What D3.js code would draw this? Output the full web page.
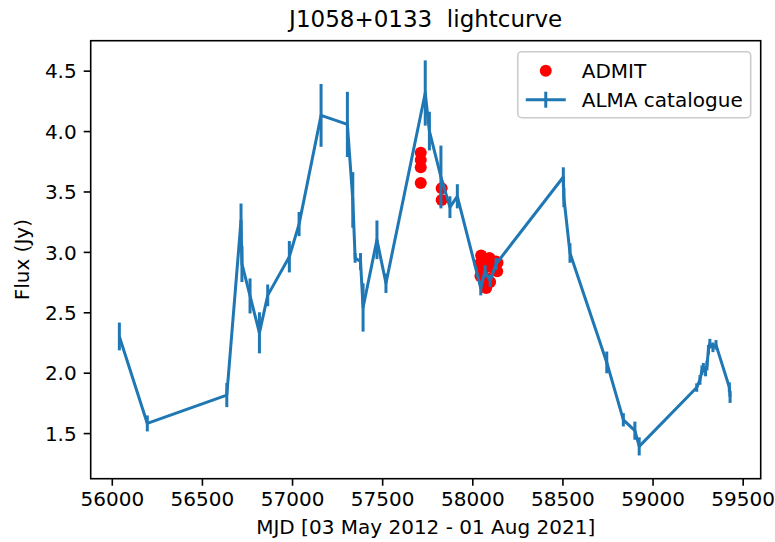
<!DOCTYPE html>
<html><head><meta charset="utf-8">
<script src="https://cdn.jsdelivr.net/npm/d3@7"></script>
<style>
body{margin:0;background:#fff}
svg{display:block}
text{font-family:"DejaVu Sans",sans-serif;fill:#000;white-space:pre}
</style>
</head><body>
<svg id="chart" width="775" height="542"></svg>
<script>
// ALMA catalogue (blue line with error bars)
const almaMjd  = [56042,56197,56638,56717,56722,56767,56819,56865,56985,57039,57161,57307,57337,57350,57380,57394,57471,57521,57739,57762,57826,57876,57917,58047,58071,58099,58132,58505,58508,58542,58746,58838,58902,58926,59245,59263,59274,59282,59294,59302,59310,59318,59335,59352,59426,59430];
const almaFlux = [2.30,1.58,1.815,3.26,2.90,2.635,2.33,2.64,2.96,3.23,4.13,4.055,3.43,2.95,2.92,2.54,3.10,2.74,4.315,4.00,3.62,3.37,3.46,2.70,2.84,2.76,2.90,3.62,3.45,2.99,2.085,1.61,1.52,1.39,1.877,1.94,2.02,2.04,2.01,2.06,2.19,2.24,2.21,2.23,1.88,1.80];
const almaErr  = [0.115,0.066,0.10,0.14,0.15,0.145,0.17,0.09,0.13,0.10,0.26,0.27,0.23,0.04,0.07,0.20,0.16,0.08,0.27,0.16,0.26,0.09,0.10,0.06,0.05,0.05,0.05,0.08,0.08,0.08,0.09,0.055,0.075,0.075,0.035,0.04,0.04,0.04,0.04,0.04,0.04,0.04,0.04,0.04,0.04,0.05];
// ADMIT (red points)
const admitMjd  = [57714,57714,57714,57714,57830,57830,58040,58045,58049,58055,58060,58066,58075,58077,58085,58090,58095,58099,58110,58120,58132,58138,58140];
const admitFlux = [3.82,3.76,3.70,3.57,3.527,3.43,2.90,2.80,2.97,2.83,2.92,2.77,2.93,2.70,2.78,2.88,2.95,2.75,2.88,2.86,2.92,2.84,2.91];
// ticks and labels
const xTicks = [56000,56500,57000,57500,58000,58500,59000,59500];
const yTicks = [1.5,2.0,2.5,3.0,3.5,4.0,4.5];
const titleText = "J1058+0133  lightcurve";
const xLabel = "MJD [03 May 2012 - 01 Aug 2021]";
const yLabel = "Flux (Jy)";
const legendLabels = ["ADMIT","ALMA catalogue"];

(function(){
const blue = "#1f77b4", red = "#ff0000";
const pL = 90.7, pR = 760.7, pT = 40.7, pB = 478.7;
const FS = 20;

const svg = d3.select("#chart");
const x = d3.scaleLinear().domain([55883, 59600]).range([pL, pR]);
const y = d3.scaleLinear().domain([1.1225, 4.748]).range([pB, pT]);

// red scatter (below lines)
svg.append("g").selectAll("circle").data(admitMjd.map((m,i)=>[m,admitFlux[i]]))
  .join("circle").attr("cx",d=>x(d[0])).attr("cy",d=>y(d[1])).attr("r",6).attr("fill",red);

// blue line
const pts = almaMjd.map((m,i)=>({m, f:almaFlux[i], e:almaErr[i]}));
svg.append("path").datum(pts)
  .attr("d", d3.line().x(d=>x(d.m)).y(d=>y(d.f)))
  .attr("fill","none").attr("stroke",blue).attr("stroke-width",3).attr("stroke-linejoin","round").attr("stroke-linecap","butt");
svg.append("g").selectAll("line").data(pts).join("line")
  .attr("x1",d=>x(d.m)).attr("x2",d=>x(d.m))
  .attr("y1",d=>y(d.f-d.e)).attr("y2",d=>y(d.f+d.e))
  .attr("stroke",blue).attr("stroke-width",3);

// axes
const xAxis = d3.axisBottom(x).tickValues(xTicks).tickFormat(d3.format("d")).tickSize(7).tickPadding(7).tickSizeOuter(0);
const yAxis = d3.axisLeft(y).tickValues(yTicks).tickFormat(d3.format(".1f")).tickSize(7).tickPadding(7).tickSizeOuter(0);
const gx = svg.append("g").attr("transform",`translate(0,${pB})`).call(xAxis);
const gy = svg.append("g").attr("transform",`translate(${pL},0)`).call(yAxis);
[gx,gy].forEach(g=>{
  g.attr("font-size",null).attr("font-family",null);
  g.select(".domain").remove();
  g.selectAll(".tick line").attr("stroke","#000").attr("stroke-width",1.6);
  g.selectAll(".tick text").attr("font-size",FS).attr("fill","#000");
});
gx.selectAll(".tick text").attr("dy","0.66em");
gy.selectAll(".tick text").attr("dy","0.36em");

// frame
svg.append("rect").attr("x",pL).attr("y",pT).attr("width",pR-pL).attr("height",pB-pT)
  .attr("fill","none").attr("stroke","#000").attr("stroke-width",1.6);

// texts
svg.append("text").attr("x",(pL+pR)/2).attr("y",27).attr("text-anchor","middle").attr("font-size",23).text(titleText);
svg.append("text").attr("x",(pL+pR)/2).attr("y",534).attr("text-anchor","middle").attr("font-size",FS).text(xLabel);
svg.append("text").attr("transform",`translate(29,${(pT+pB)/2}) rotate(-90)`).attr("text-anchor","middle").attr("font-size",FS).text(yLabel);

// legend
const lg = svg.append("g");
const tmp = lg.append("text").attr("font-size",FS).text(legendLabels[1]);
const tw = tmp.node().getComputedTextLength(); tmp.remove();
const lw = 8+40+16+tw+8, lh = 66;
const lx = pR-10-lw, ly = pT+11;
lg.append("rect").attr("x",lx).attr("y",ly).attr("width",lw).attr("height",lh).attr("rx",4)
  .attr("fill","#fff").attr("fill-opacity",0.8).attr("stroke","#cccccc").attr("stroke-width",1.6);
const r1 = ly+19, r2 = ly+48;
lg.append("circle").attr("cx",lx+28).attr("cy",r1).attr("r",6).attr("fill",red);
lg.append("line").attr("x1",lx+8).attr("x2",lx+48).attr("y1",r2).attr("y2",r2).attr("stroke",blue).attr("stroke-width",3);
lg.append("line").attr("x1",lx+28).attr("x2",lx+28).attr("y1",r2-8).attr("y2",r2+8).attr("stroke",blue).attr("stroke-width",3);
lg.append("text").attr("x",lx+64).attr("y",r1).attr("dy","0.36em").attr("font-size",FS).text(legendLabels[0]);
lg.append("text").attr("x",lx+64).attr("y",r2).attr("dy","0.36em").attr("font-size",FS).text(legendLabels[1]);
})();
</script>
</body></html>
